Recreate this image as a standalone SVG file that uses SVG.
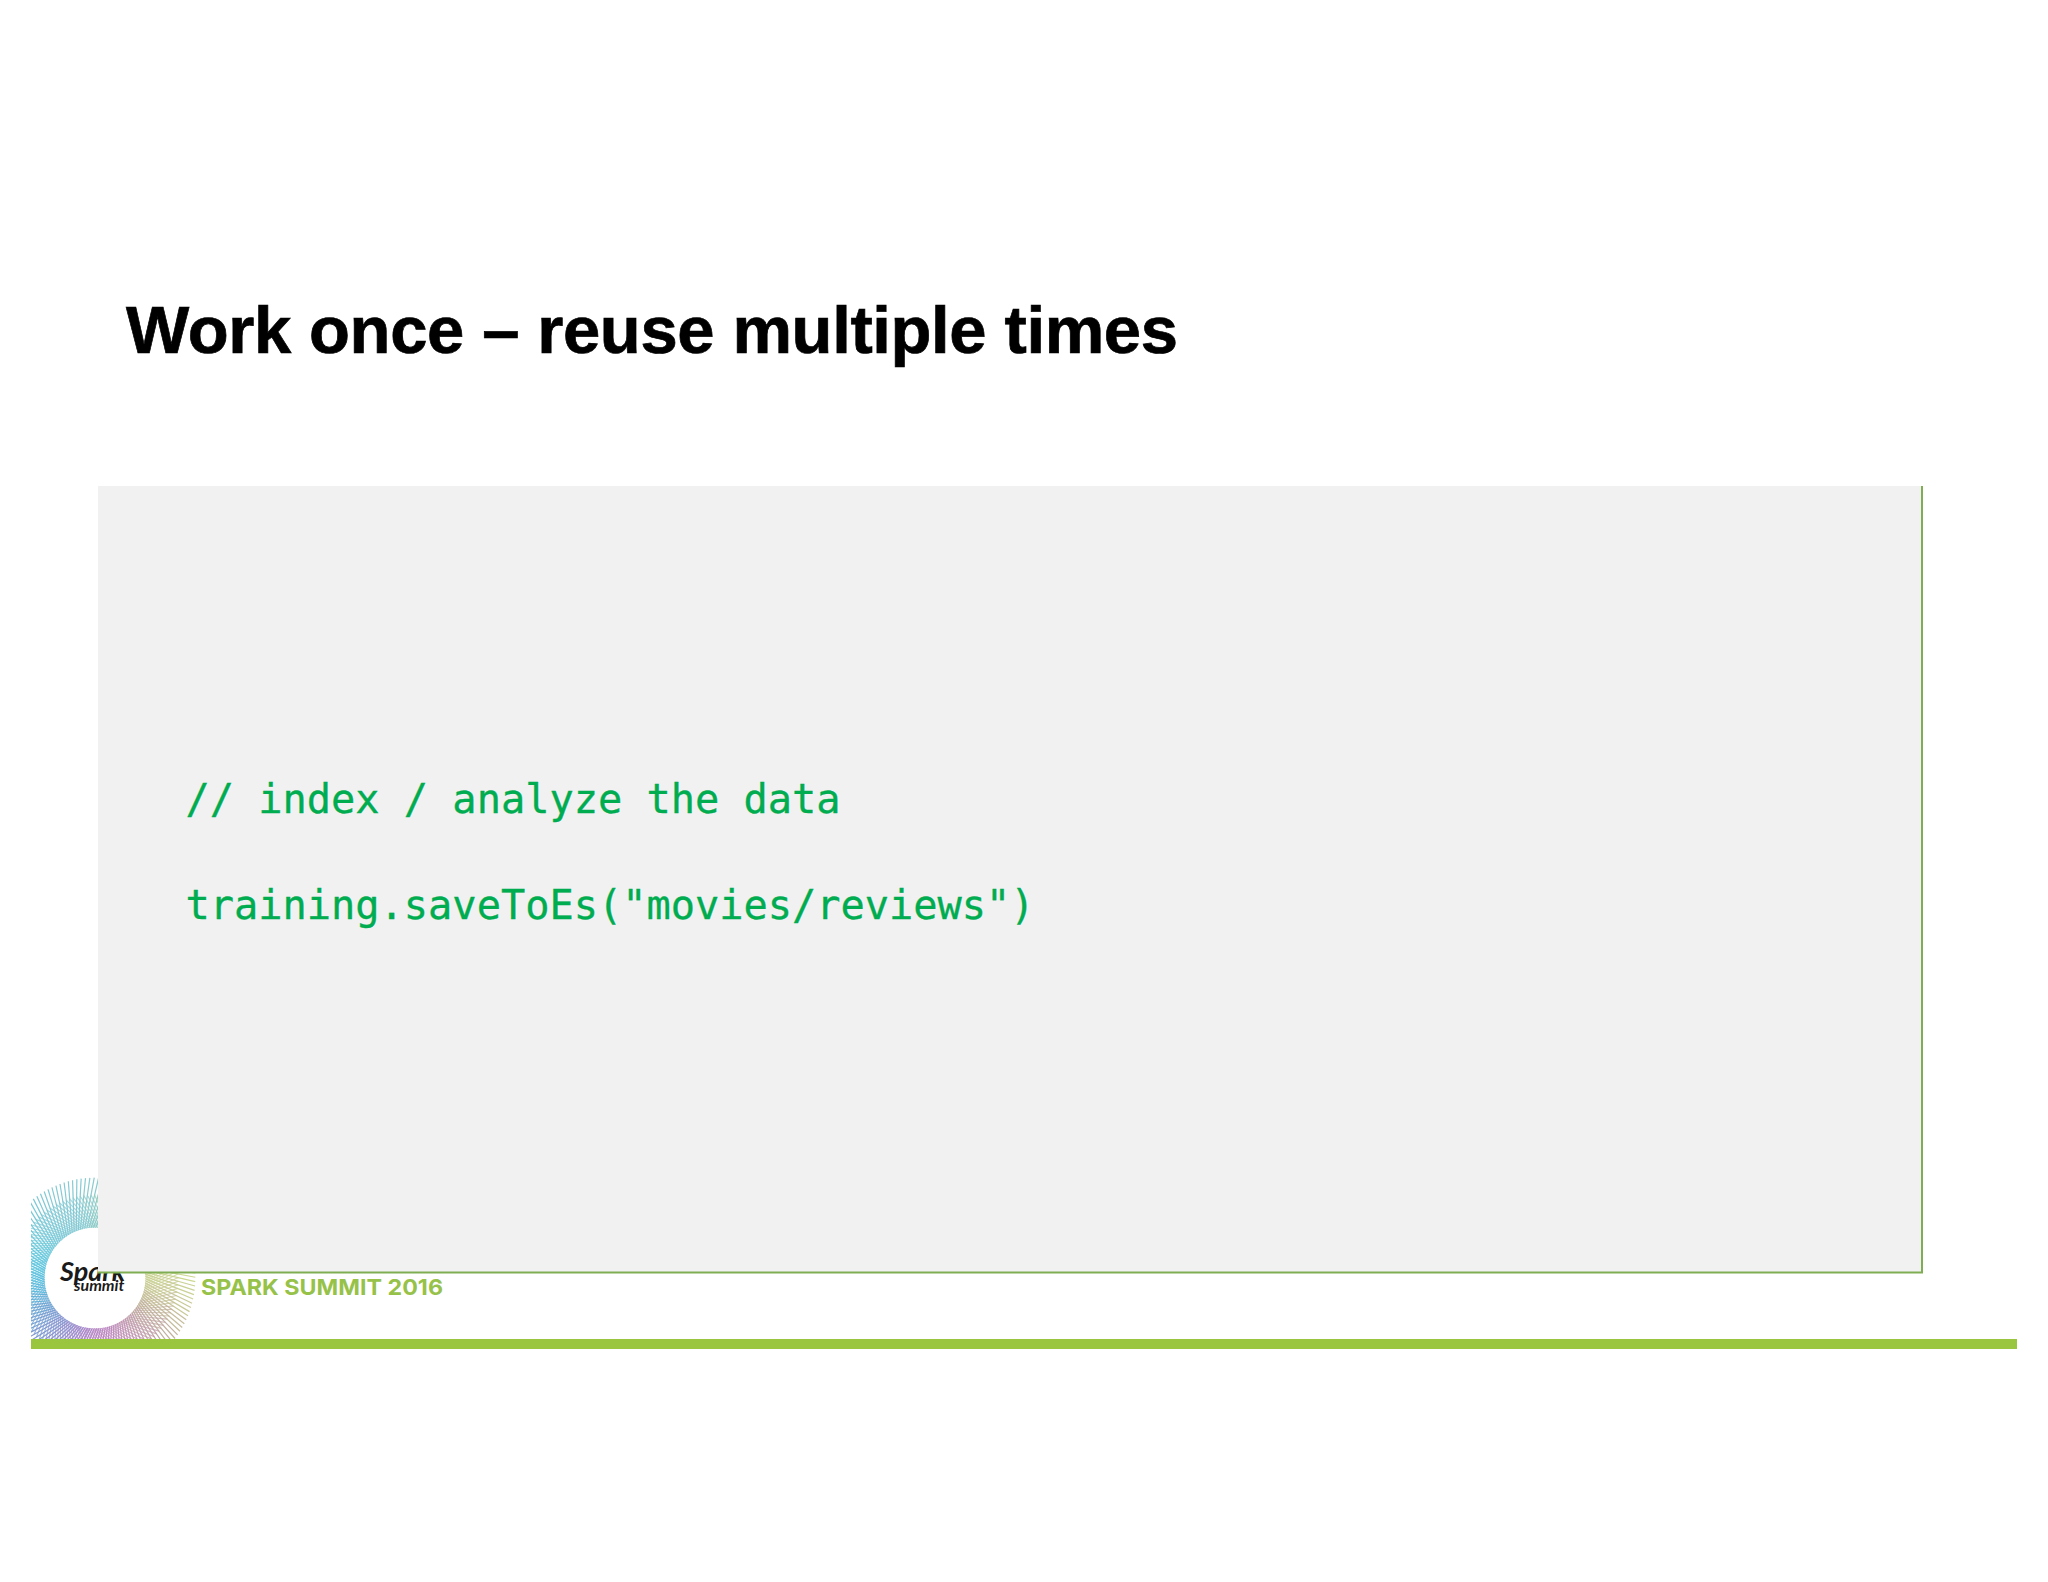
<svg xmlns="http://www.w3.org/2000/svg" width="2048" height="1582" viewBox="0 0 2048 1582">
<style>
.title{font-family:"Liberation Sans",Arial,sans-serif;font-weight:700;font-size:67px;fill:#000;stroke:#000;stroke-width:.7}
.code{font-family:"DejaVu Sans Mono","Liberation Mono",monospace;font-size:40.3px;fill:#00ac50;stroke:#00ac50;stroke-width:.35}
.brand{font-family:"Inter","Liberation Sans",sans-serif;font-weight:700;font-size:22px;fill:#97c24a}
.logo{font-family:"Lato","Liberation Sans",sans-serif;font-weight:700;font-style:italic;fill:#1a1a1a}
.ray{fill:none;stroke-width:1.2}
</style>
<defs>
<clipPath id="logoClip"><rect x="31" y="1170" width="170" height="169"/></clipPath>
<g id="ray"><line x1="-6" y1="-50" x2="8" y2="-100"/><line x1="7" y1="-50" x2="-15" y2="-82" opacity=".75"/></g>
<g id="sec"><use href="#ray"/><use href="#ray" transform="rotate(2.5)"/><use href="#ray" transform="rotate(5)"/><use href="#ray" transform="rotate(7.5)"/></g>
</defs>
<rect width="2048" height="1582" fill="#fff"/>
<g id="logo">
<g clip-path="url(#logoClip)"><g class="ray" transform="translate(95 1278)">
<use href="#sec" stroke="#85c9d4" transform="rotate(-30)"/><use href="#sec" stroke="#85c9d4" transform="rotate(-20)"/><use href="#sec" stroke="#89cbd0" transform="rotate(-10)"/><use href="#sec" stroke="#8fcbc6" transform="rotate(0)"/><use href="#sec" stroke="#9acdb2" transform="rotate(10)"/><use href="#sec" stroke="#a4cfa2" transform="rotate(20)"/>
<use href="#sec" stroke="#b2d29a" transform="rotate(30)"/><use href="#sec" stroke="#bcd596" transform="rotate(40)"/><use href="#sec" stroke="#c6d792" transform="rotate(50)"/><use href="#sec" stroke="#cad890" transform="rotate(60)"/><use href="#sec" stroke="#ccd890" transform="rotate(70)"/><use href="#sec" stroke="#ccd790" transform="rotate(80)"/>
<use href="#sec" stroke="#cad194" transform="rotate(90)"/><use href="#sec" stroke="#c8c996" transform="rotate(100)"/><use href="#sec" stroke="#c5bd9a" transform="rotate(110)"/><use href="#sec" stroke="#c1b19e" transform="rotate(120)"/><use href="#sec" stroke="#c1a7a6" transform="rotate(130)"/><use href="#sec" stroke="#c19dae" transform="rotate(140)"/>
<use href="#sec" stroke="#c195b6" transform="rotate(150)"/><use href="#sec" stroke="#bf8dbe" transform="rotate(160)"/><use href="#sec" stroke="#bc87c2" transform="rotate(170)"/><use href="#sec" stroke="#b687c6" transform="rotate(180)"/><use href="#sec" stroke="#aa87c9" transform="rotate(190)"/><use href="#sec" stroke="#9c8bcc" transform="rotate(200)"/>
<use href="#sec" stroke="#9091ce" transform="rotate(210)"/><use href="#sec" stroke="#8497d0" transform="rotate(220)"/><use href="#sec" stroke="#7a9fd2" transform="rotate(230)"/><use href="#sec" stroke="#70a7d4" transform="rotate(240)"/><use href="#sec" stroke="#66b1d8" transform="rotate(250)"/><use href="#sec" stroke="#60bbdc" transform="rotate(260)"/>
<use href="#sec" stroke="#5cc1de" transform="rotate(270)"/><use href="#sec" stroke="#5ec5de" transform="rotate(280)"/><use href="#sec" stroke="#66c7dc" transform="rotate(290)"/><use href="#sec" stroke="#70c9da" transform="rotate(300)"/><use href="#sec" stroke="#7ac9d8" transform="rotate(310)"/><use href="#sec" stroke="#80c9d6" transform="rotate(320)"/>
</g></g>
<circle cx="95" cy="1278" r="50" fill="#fff"/>
<text class="logo" x="60" y="1281" font-size="27">Spark</text>
<text class="logo" x="74" y="1291" font-size="16">summit</text>
</g>
<g id="footer">
<rect x="31" y="1339" width="1986" height="10" fill="#99c53f"/>
<text class="brand" x="201" y="1295" textLength="242" lengthAdjust="spacingAndGlyphs">SPARK SUMMIT 2016</text>
</g>
<g id="panel">
<rect x="98" y="486" width="1824" height="787" fill="#f1f1f2"/>
<path d="M98 1272.5H1922V486" fill="none" stroke="#7fae52" stroke-width="2"/>
<text class="code" x="185.5" y="812.5">// index / analyze the data</text>
<text class="code" x="185.5" y="918.5">training.saveToEs("movies/reviews")</text>
</g>
<g id="title"><text class="title" x="126" y="353" textLength="1052" lengthAdjust="spacing">Work once – reuse multiple times</text></g>
</svg>
